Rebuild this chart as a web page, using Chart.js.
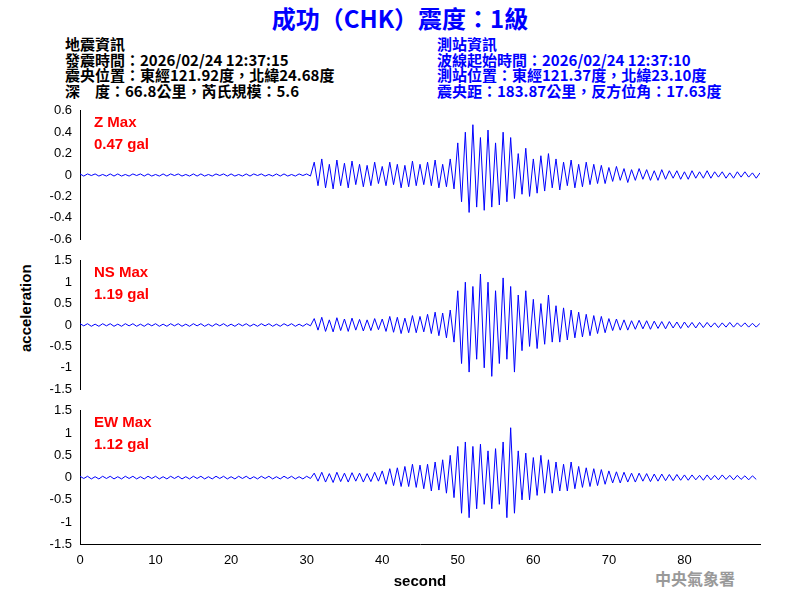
<!DOCTYPE html>
<html><head><meta charset="utf-8">
<script src="https://cdn.jsdelivr.net/npm/chart.js@4"></script>
<style>
body{margin:0;width:800px;height:600px;background:#fff;position:relative;font-family:Arial,"Liberation Sans",sans-serif;overflow:hidden}
.t{position:absolute;white-space:pre;font-size:15px;line-height:15.5px;font-weight:bold;font-family:"Noto Sans CJK TC","Liberation Sans",sans-serif}
canvas{position:absolute}
</style></head><body>
<div class="t" style="left:0;width:800px;text-align:center;top:3px;font-size:24px;line-height:30px;color:#0000ff">成功（CHK）震度：1級</div>
<div class="t" style="left:65px;top:36px;color:#000">地震資訊
發震時間：2026/02/24 12:37:15
震央位置：東經121.92度，北緯24.68度
深　度：66.8公里，芮氏規模：5.6</div>
<div class="t" style="left:437px;top:36px;color:#0000ff">測站資訊
波線起始時間：2026/02/24 12:37:10
測站位置：東經121.37度，北緯23.10度
震央距：183.87公里，反方位角：17.63度</div>
<div class="t" style="left:18px;transform:rotate(-90deg);transform-origin:left top;top:352px;font-size:15px;font-family:Arial,sans-serif">acceleration</div>
<div class="t" style="left:655px;top:571px;color:#999;font-size:16px">中央氣象署</div>
<canvas id="c0" style="left:0;top:100px" width="770" height="150"></canvas>
<canvas id="c1" style="left:0;top:250px" width="770" height="150"></canvas>
<canvas id="c2" style="left:0;top:400px" width="770" height="195"></canvas>
<script>
const step = 0.5;
const zVals = [0.01,-0.01,0.01,-0.005,0.01,-0.01,0.005,-0.01,0.01,-0.01,0.01,-0.01,0.005,-0.01,0.01,-0.005,0.01,-0.01,0.01,-0.01,0.005,-0.01,0.01,-0.01,0.01,-0.005,0.01,-0.01,0.005,-0.01,0.01,-0.01,0.01,-0.01,0.005,-0.01,0.01,-0.005,0.01,-0.01,0.01,-0.01,0.005,-0.01,0.01,-0.01,0.01,-0.005,0.01,-0.01,0.005,-0.01,0.01,-0.01,0.01,-0.01,0.005,-0.01,0.01,-0.005,0.01,-0.01,
0.12,-0.1,0.15,-0.12,0.1,-0.13,0.14,-0.1,0.11,-0.12,0.13,-0.09,0.1,-0.11,0.09,-0.1,0.12,-0.08,
0.08,-0.1,0.12,-0.09,0.1,-0.12,0.09,-0.11,0.13,-0.1,0.1,-0.09,0.12,-0.1,0.14,-0.12,0.1,-0.11,0.15,-0.13,
0.3,-0.25,0.4,-0.35,0.47,-0.3,0.35,-0.33,0.42,-0.3,0.3,-0.28,0.4,-0.25,0.35,-0.22,
0.2,-0.18,0.25,-0.2,0.15,-0.17,0.18,-0.15,0.2,-0.12,0.15,-0.14,0.12,-0.1,0.14,-0.12,0.1,-0.11,0.12,-0.09,0.1,-0.08,0.09,-0.08,
0.07,-0.06,0.08,-0.05,0.06,-0.07,0.05,-0.05,0.06,-0.04,0.05,-0.05,0.04,-0.05,0.05,-0.04,0.04,-0.03,0.04,-0.04,0.03,-0.04,0.04,-0.03,0.03,-0.03,0.04,-0.03,0.03,-0.02,0.03,-0.03,0.02,-0.03,0.03,-0.02,0.03,-0.02,0.02,-0.03,0.02];
const nsVals = [0.03,-0.02,0.03,-0.03,0.02,-0.03,0.03,-0.02,0.03,-0.03,0.02,-0.03,0.03,-0.02,0.03,-0.03,0.02,-0.03,0.03,-0.02,0.03,-0.03,0.02,-0.03,0.03,-0.02,0.03,-0.03,0.02,-0.03,0.03,-0.02,0.03,-0.03,0.02,-0.03,0.03,-0.02,0.03,-0.03,0.02,-0.03,0.03,-0.02,0.03,-0.03,0.02,-0.03,0.03,-0.02,0.03,-0.03,0.02,-0.03,0.03,-0.02,0.03,-0.03,0.02,-0.03,0.03,-0.02,
0.15,-0.12,0.18,-0.15,0.12,-0.16,0.17,-0.13,0.14,-0.15,0.16,-0.12,0.13,-0.14,0.12,-0.13,0.15,-0.11,
0.14,-0.15,0.2,-0.17,0.18,-0.2,0.16,-0.18,0.22,-0.18,0.2,-0.16,0.25,-0.2,0.3,-0.25,0.28,-0.3,0.35,-0.4,
0.8,-0.9,1.0,-1.1,0.9,-0.8,1.19,-1.0,1.0,-1.2,0.8,-0.9,1.1,-0.8,0.9,-1.1,
0.7,-0.6,0.8,-0.5,0.6,-0.55,0.5,-0.45,0.7,-0.4,0.45,-0.4,0.4,-0.35,0.35,-0.3,0.3,-0.28,0.25,-0.25,0.22,-0.2,0.2,-0.18,
0.15,-0.13,0.14,-0.12,0.12,-0.12,0.1,-0.1,0.11,-0.09,0.1,-0.1,0.09,-0.08,0.08,-0.09,0.08,-0.07,0.07,-0.08,0.07,-0.06,0.06,-0.07,0.06,-0.06,0.06,-0.05,0.05,-0.06,0.05,-0.05,0.06,-0.05,0.05,-0.04,0.05,-0.05,0.04,-0.05,0.04,-0.04];
const ewVals = [0.03,-0.02,0.03,-0.03,0.02,-0.03,0.03,-0.02,0.03,-0.03,0.02,-0.03,0.03,-0.02,0.03,-0.03,0.02,-0.03,0.03,-0.02,0.03,-0.03,0.02,-0.03,0.03,-0.02,0.03,-0.03,0.02,-0.03,0.03,-0.02,0.03,-0.03,0.02,-0.03,0.03,-0.02,0.03,-0.03,0.02,-0.03,0.03,-0.02,0.03,-0.03,0.02,-0.03,0.03,-0.02,0.03,-0.03,0.02,-0.03,0.03,-0.02,0.03,-0.03,0.02,-0.03,0.03,-0.02,
0.1,-0.08,0.12,-0.1,0.09,-0.11,0.12,-0.09,0.1,-0.1,0.11,-0.08,0.1,-0.1,0.09,-0.09,0.12,-0.08,
0.15,-0.15,0.2,-0.18,0.22,-0.2,0.25,-0.2,0.3,-0.22,0.28,-0.25,0.3,-0.3,0.35,-0.28,0.4,-0.35,0.5,-0.45,
0.7,-0.8,0.8,-0.9,0.7,-0.7,0.75,-0.6,0.6,-0.7,0.65,-0.6,0.8,-0.9,1.12,-0.8,
0.6,-0.5,0.55,-0.5,0.45,-0.4,0.5,-0.35,0.4,-0.35,0.35,-0.3,0.3,-0.3,0.35,-0.25,0.25,-0.22,0.22,-0.2,0.2,-0.18,0.18,-0.15,
0.15,-0.12,0.13,-0.12,0.12,-0.1,0.1,-0.1,0.1,-0.08,0.09,-0.09,0.08,-0.08,0.08,-0.07,0.07,-0.07,0.07,-0.06,0.06,-0.06,0.06,-0.05,0.05,-0.06,0.06,-0.05,0.05,-0.05,0.06,-0.04,0.05,-0.05,0.05,-0.04,0.04,-0.05,0.04,-0.04];
const panels = [
 {id:'c0', vals:zVals, min:-0.6, max:0.6, stepSize:0.2, label:['Z Max','0.47 gal'], xaxis:false},
 {id:'c1', vals:nsVals, min:-1.5, max:1.5, stepSize:0.5, label:['NS Max','1.19 gal'], xaxis:false},
 {id:'c2', vals:ewVals, min:-1.5, max:1.5, stepSize:0.5, label:['EW Max','1.12 gal'], xaxis:true}
];
const labelPlugin = {id:'lbl', afterDraw(ch){const c=ch.ctx, p=ch.options.plugins.lbl; c.save(); c.fillStyle='#ff0000'; c.font='bold 15px Arial, "Liberation Sans"'; c.fillText(p.text[0], ch.chartArea.left+14, ch.chartArea.top+16); c.fillText(p.text[1], ch.chartArea.left+14, ch.chartArea.top+38); c.restore();}};
Chart.defaults.font.family='Arial, "Liberation Sans", sans-serif';
Chart.defaults.color='#000';
for (const p of panels){
 new Chart(document.getElementById(p.id),{type:'line',
  data:{datasets:[{data:p.vals.map((v,i)=>({x:i*step,y:v})),borderColor:'#0000ff',borderWidth:1,pointRadius:0,tension:0}]},
  options:{responsive:false,animation:false,
   layout:{padding:{top:8,bottom:p.xaxis?0:7,right:10,left:0}},
   plugins:{legend:{display:false},tooltip:{enabled:false},lbl:{text:p.label}},
   scales:{
    x:{type:'linear',min:0,max:90,afterFit(s){if(!p.xaxis)s.height=0;},
       ticks:{display:p.xaxis,stepSize:10,font:{size:13},maxRotation:0,callback:v=>v<=80?v:''},
       title:{display:p.xaxis,text:'second',font:{size:15,weight:'bold'},padding:{top:2}},
       grid:{display:false,drawTicks:p.xaxis,tickLength:5},border:{display:p.xaxis,color:'#000'}},
    y:{min:p.min,max:p.max,afterFit(s){s.width=80;},
       ticks:{stepSize:p.stepSize,font:{size:13},callback:v=>Math.round(v*10)/10},
       grid:{display:false,tickLength:5},border:{color:'#000'}}
   }},
  plugins:[labelPlugin]});
}
</script></body></html>
